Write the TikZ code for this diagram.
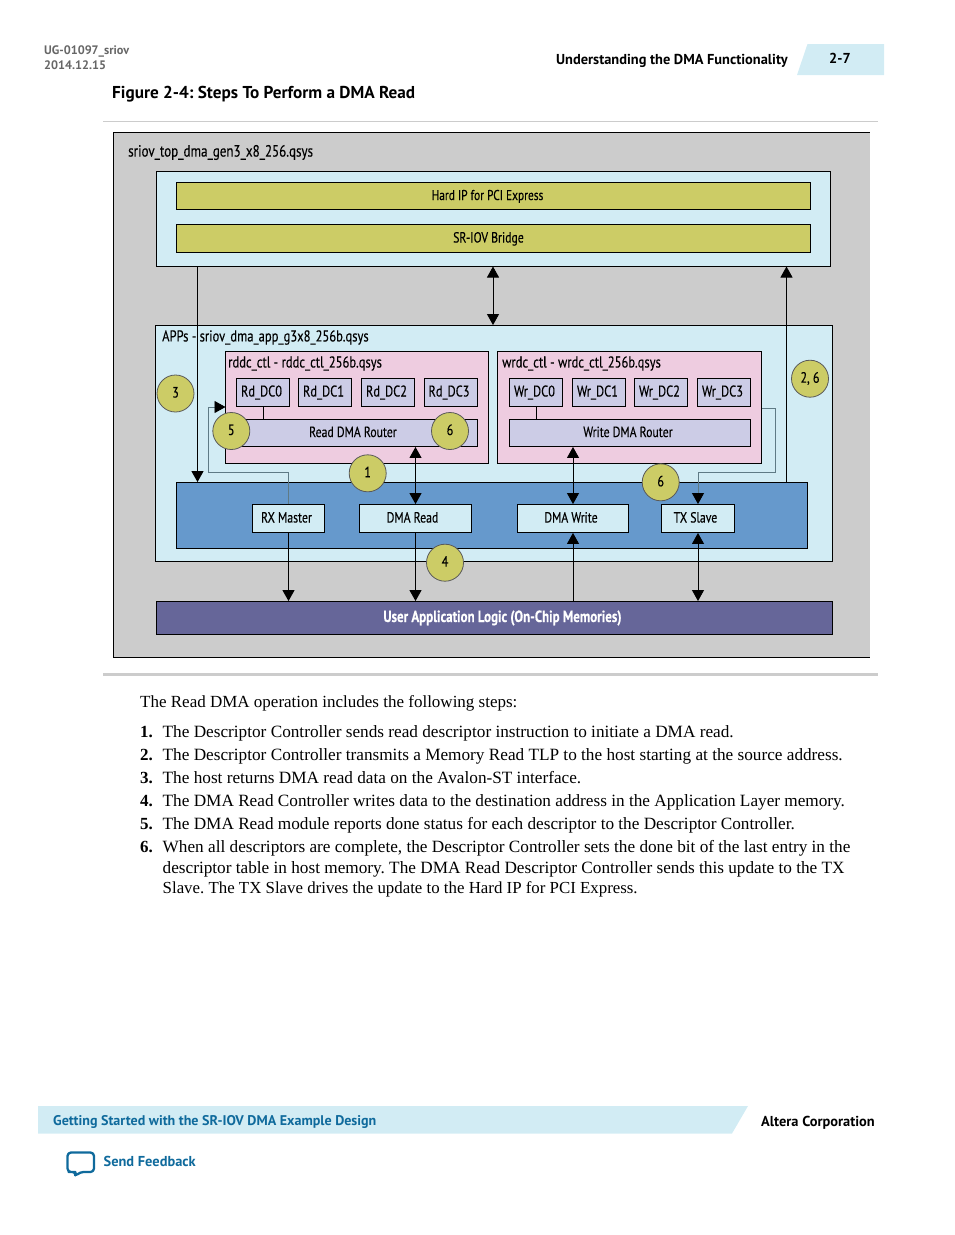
\documentclass[tikz,border=0pt]{standalone}
\usepackage{fontspec}
\usepackage{xcolor}
\usetikzlibrary{arrows.meta}
\setmainfont{Liberation Serif}
\newfontfamily\headfont{PT Sans}
\newfontfamily\condfont{PT Sans}[FakeStretch=0.8,FakeBold=0.2]
\definecolor{shellgray}{HTML}{CCCCCC}
\definecolor{paleblue}{HTML}{D2ECF4}
\definecolor{olive}{HTML}{CCCC66}
\definecolor{pinkbox}{HTML}{EECCE0}
\definecolor{lavender}{HTML}{CCCCE6}
\definecolor{midblue}{HTML}{6699CC}
\definecolor{purplebox}{HTML}{666699}
\definecolor{linkblue}{HTML}{0F6A9C}
\definecolor{routegray}{HTML}{5F7A85}
\tikzset{
  wh/.style 2 args={minimum width=#1pt, minimum height=#2pt},
  block/.style={draw=black, line width=0.9pt, inner sep=0pt, text height=10.5pt, text depth=2.5pt, font=\condfont\fontsize{14.7}{18}\selectfont},
  title/.style={inner sep=0pt, anchor=west, font=\condfont\fontsize{15.7}{18}\selectfont},
  stepcircle/.style={circle, draw=black!65, line width=0.8pt, fill=olive, minimum size=37pt, inner sep=0pt, text height=10pt, text depth=2pt, font=\condfont\fontsize{15}{18}\selectfont},
  bodyline/.style={inner sep=0pt, anchor=base west, font=\fontsize{17.22}{18}\selectfont},
  headtext/.style={inner sep=0pt, anchor=west, font=\headfont\bfseries\fontsize{14.4}{16}\selectfont},
  link/.style={line width=0.9pt, >={Triangle[length=11pt,width=12pt]}},
  route/.style={line width=0.9pt, draw=routegray, arrows={-Triangle[length=11pt,width=12pt,black]}}
}
\frenchspacing
\begin{document}
\begin{tikzpicture}[x=1pt,y=-1pt]
    \useasboundingbox (0,0) rectangle (954,1235);
    % page header
    \node [inner sep=0pt, anchor=west, text=black!60, font=\headfont\bfseries\fontsize{12.3}{14}\selectfont] (docid) at (44,51) {UG-01097\_sriov};
    \node [inner sep=0pt, anchor=west, text=black!60, font=\headfont\bfseries\fontsize{12.3}{14}\selectfont] (docdate) at (44,65) {2014.12.15};
    \node [headtext] (section) at (556,61) {Understanding the DMA Functionality};
    \fill [paleblue] (807.5,44) -- (884,44) -- (884,75) -- (797,75) -- cycle;
    \node [headtext] (pagenum) at (829,58.5) {2-7};
    \node [headtext, font=\headfont\bfseries\fontsize{17.2}{18}\selectfont] (figtitle) at (112,94) {Figure 2-4: Steps To Perform a DMA Read};
    \draw [black!20, line width=1pt] (103,121) -- (878,121);
    % outer system
    \fill [shellgray] (113.5,132.5) rectangle (869.5,657.5);
    \draw [line width=0.9pt] (869.5,132.5) -- (113.5,132.5) -- (113.5,657.5) -- (869.5,657.5);
    \node [title, font=\condfont\fontsize{16.25}{18}\selectfont] (systitle) at (128,152.5) {sriov\_top\_dma\_gen3\_x8\_256.qsys};
    % hard IP
    \node [block, wh={674}{95}, fill=paleblue] (hardbox) at (493.5,219) {};
    \node [block, wh={634}{27}, fill=olive, font=\condfont\fontsize{14.2}{18}\selectfont] (hardip) at (493.5,196) {\kern-12pt Hard IP for PCI Express};
    \node [block, wh={634}{28}, fill=olive] (bridge) at (493.5,238.5) {\kern-10pt SR-IOV Bridge};
    % application block
    \node [block, wh={677}{236}, fill=paleblue] (appsbox) at (494,443.5) {};
    \node [title] (appstitle) at (162,337.5) {APPs - sriov\_dma\_app\_g3x8\_256b.qsys};
    \node [block, wh={263}{112}, fill=pinkbox] (rdctl) at (357,407.5) {};
    \node [title] (rdtitle) at (228,363.5) {rddc\_ctl - rddc\_ctl\_256b.qsys};
    \node [block, wh={264}{112}, fill=pinkbox] (wrctl) at (629.5,407.5) {};
    \node [title] (wrtitle) at (502,363.5) {wrdc\_ctl - wrdc\_ctl\_256b.qsys};
    \foreach \nodename/\xpos/\txt in {rdzero/263/Rd\_DC0, rdone/325/Rd\_DC1, rdtwo/388/Rd\_DC2, rdthree/450.5/Rd\_DC3,
        wrzero/536/Wr\_DC0, wrone/599/Wr\_DC1, wrtwo/661/Wr\_DC2, wrthree/724/Wr\_DC3}
        \node [block, wh={53}{28}, fill=lavender, font=\condfont\fontsize{15.5}{18}\selectfont] (\nodename) at (\xpos,392.5) {\kern-3pt \txt};
    \node [block, wh={241}{27}, fill=lavender] (rdrouter) at (357,433) {\kern-8pt Read DMA Router};
    \node [block, wh={241}{27}, fill=lavender] (wrrouter) at (630,433) {\kern-4pt Write DMA Router};
    \draw [link] (rdzero.south) -- (rdzero.south |- rdrouter.north);
    \draw [link] (wrzero.south) -- (wrzero.south |- wrrouter.north);
    % avalon blocks
    \node [block, wh={631}{66}, fill=midblue] (fabric) at (492,515.5) {};
    \node [block, wh={72}{28}, fill=paleblue] (rxmaster) at (288.5,518.5) {\kern-4pt RX Master};
    \node [block, wh={112}{28}, fill=paleblue] (dmaread) at (415.5,518.5) {\kern-6pt DMA Read};
    \node [block, wh={111}{28}, fill=paleblue] (dmawrite) at (573,518.5) {\kern-4pt DMA Write};
    \node [block, wh={73}{28}, fill=paleblue] (txslave) at (698,518.5) {\kern-5pt TX Slave};
    \node [block, wh={676}{33}, fill=purplebox, text=white, font=\condfont\bfseries\fontsize{16.2}{18}\selectfont] (userlogic) at (494.5,618) {\kern16pt User Application Logic (On-Chip Memories)};
    % connectors
    \coordinate (leftdrop) at (197.5,266.5);
    \coordinate (centerlink) at (493,266.5);
    \coordinate (rightrise) at (786.5,266.5);
    \coordinate (rdentry) at (225.5,407);
    \coordinate (wrexit) at (761.5,408);
    \draw [link, ->] (leftdrop) -- (leftdrop |- fabric.north);
    \draw [link, <->] (centerlink) -- (centerlink |- appsbox.north);
    \draw [link, ->] (rightrise |- fabric.north) -- (rightrise);
    \draw [link, <->] (dmaread.north) -- (dmaread.north |- rdrouter.south);
    \draw [link, <->] (dmawrite.north) -- (dmawrite.north |- wrrouter.south);
    \draw [link, ->] (rxmaster.south) -- (rxmaster.south |- userlogic.north);
    \draw [link, ->] (dmaread.south) -- (dmaread.south |- userlogic.north);
    \draw [link, ->] (dmawrite.south |- userlogic.north) -- (dmawrite.south);
    \draw [link, <->] (txslave.south) -- (txslave.south |- userlogic.north);
    \draw [route] (rxmaster.north) -- (288.5,472) -- (208,472) -- (208,407) -- (rdentry);
    \draw [route] (wrexit) -- (775.5,408) -- (775.5,472.5) -- (698,472.5) -- (txslave.north);
    % step markers
    \foreach \nodename/\xpos/\ypos/\txt in {stepa/175.5/393.5/3, stepb/231.3/431/5, stepc/450/431/6, stepd/367.7/473.3/1,
        stepe/445/562.7/4, stepf/810/378.7/{2, 6}, stepg/660.7/482.3/6}
        \node [stepcircle] (\nodename) at (\xpos,\ypos) {\txt};
    \draw [black!20, line width=3pt] (103,674.5) -- (878,674.5);
    % text under the figure
    \node [bodyline, font=\fontsize{17}{18}\selectfont] (intro) at (140,707.5) {The Read DMA operation includes the following steps:};
    \foreach \nodename/\ypos/\num/\txt in {
        lineone/737/1./{The Descriptor Controller sends read descriptor instruction to initiate a DMA read.},
        linetwo/760/2./{The Descriptor Controller transmits a Memory Read TLP to the host starting at the source address.},
        linethree/783/3./{The host returns DMA read data on the Avalon-ST interface.},
        linefour/806/4./{The DMA Read Controller writes data to the destination address in the Application Layer memory.},
        linefive/829/5./{The DMA Read module reports done status for each descriptor to the Descriptor Controller.},
        linesix/852/6./{When all descriptors are complete, the Descriptor Controller sets the done bit of the last entry in the}}
    {
        \node [bodyline, font=\bfseries\fontsize{17}{18}\selectfont] (\nodename num) at (140,\ypos) {\num};
        \node [bodyline] (\nodename) at (162.5,\ypos) {\txt};
    }
    \node [bodyline] (lineseven) at (162.5,873) {descriptor table in host memory. The DMA Read Descriptor Controller sends this update to the TX};
    \node [bodyline, font=\fontsize{16.85}{18}\selectfont] (lineeight) at (162.5,893) {Slave. The TX Slave drives the update to the Hard IP for PCI Express.};
    % page footer
    \fill [paleblue] (38,1106) -- (748,1106) -- (732,1133.5) -- (38,1133.5) -- cycle;
    \node [headtext, text=linkblue, font=\headfont\bfseries\fontsize{14.05}{16}\selectfont] (chapter) at (53,1121.5) {Getting Started with the SR-IOV DMA Example Design};
    \node [headtext] (company) at (761,1122.5) {Altera Corporation};
    \draw [linkblue, line width=2.3pt, rounded corners=3.5pt, line join=round] (72,1172) -- (67.5,1172) -- (67.5,1152.5) -- (94,1152.5) -- (94,1172) -- (80,1172) -- (75,1176.5) -- (76,1172) -- cycle;
    \node [headtext, text=linkblue] (feedback) at (103.5,1161.5) {Send Feedback};
\end{tikzpicture}
\end{document}
